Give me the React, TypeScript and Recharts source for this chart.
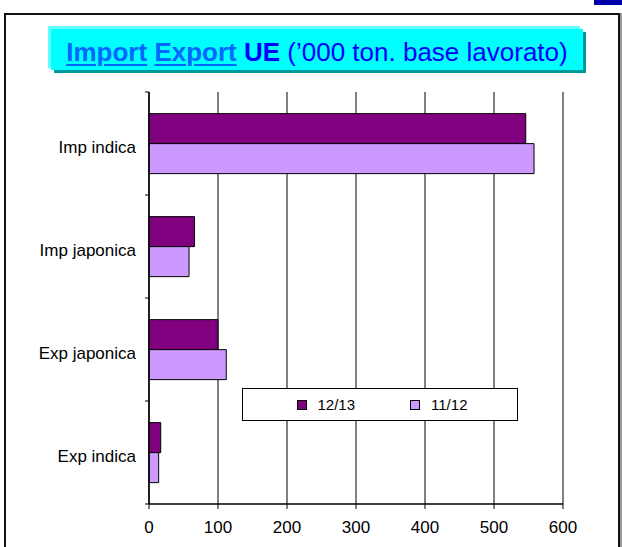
import React from 'react';
import { BarChart, Bar, XAxis, YAxis, CartesianGrid, Legend } from 'recharts';

const categories = ['Imp indica', 'Imp japonica', 'Exp japonica', 'Exp indica'];
const values1213 = [546, 66, 100, 17];
const values1112 = [558, 58, 112, 14];
const xTicks = [0, 100, 200, 300, 400, 500, 600];
const seriesKeys = ['s1213', 's1112'];
const seriesNames = ['12/13', '11/12'];
const seriesColors = ['#800080', '#CC99FF'];

const data = categories.map((name, i) => ({ name, s1213: values1213[i], s1112: values1112[i] }));

const FONT = '"Liberation Sans", Arial, Helvetica, sans-serif';
const W = 622;
const H = 547;
const MARGIN = { top: 92, right: 59, bottom: 13, left: 0 };
const YAXIS_W = 149;
const XAXIS_H = 30;
const PLOT_H = H - MARGIN.top - MARGIN.bottom - XAXIS_H;
const TICK_SIZE = 4;
const TICK_MARGIN = 9;

const CategoryTick = (props: any) => {
  const { x, y, payload, index, visibleTicksCount } = props;
  const half = PLOT_H / categories.length / 2;
  const axisX = x + TICK_SIZE + TICK_MARGIN;
  const isLast = index === (visibleTicksCount ?? categories.length) - 1;
  return (
    <g>
      <line x1={axisX - TICK_SIZE} x2={axisX} y1={y - half} y2={y - half} stroke="#000" strokeWidth={1} />
      {isLast && (
        <line x1={axisX - TICK_SIZE} x2={axisX} y1={y + half} y2={y + half} stroke="#000" strokeWidth={1} />
      )}
      <text x={x} y={y} dy={9} textAnchor="end" fill="#000" fontSize={17} fontFamily={FONT}>
        {payload.value}
      </text>
    </g>
  );
};

const LegendContent = (props: any) => {
  const payload = [...(props.payload || [])].sort(
    (a: any, b: any) => seriesNames.indexOf(a.value) - seriesNames.indexOf(b.value)
  );
  return (
    <div
      style={{
        width: '100%',
        height: '100%',
        boxSizing: 'border-box',
        border: '1px solid #000',
        background: '#fff',
        display: 'flex',
        alignItems: 'center',
        justifyContent: 'center',
        gap: 55,
        fontFamily: FONT,
        fontSize: 15,
        color: '#000',
        paddingLeft: 4,
      }}
    >
      {payload.map((p: any, i: number) => (
        <div key={i} style={{ display: 'flex', alignItems: 'center' }}>
          <span
            style={{
              display: 'inline-block',
              width: 8,
              height: 8,
              background: p.color,
              border: '1px solid #000',
              marginRight: 11,
            }}
          />
          <span>{p.value}</span>
        </div>
      ))}
    </div>
  );
};

export default function App() {
  return (
    <div
      style={{
        position: 'absolute',
        left: 0,
        top: 0,
        width: W,
        height: H,
        overflow: 'hidden',
        background: '#fff',
        fontFamily: FONT,
      }}
    >
      <div style={{ position: 'absolute', left: 594, top: 0, width: 28, height: 5, background: '#0000AA' }} />
      <div
        style={{
          position: 'absolute',
          left: 4,
          top: 13,
          width: 616,
          height: 620,
          boxSizing: 'border-box',
          border: '2px solid #111',
          boxShadow: '2px 0 0 #999',
        }}
      />
      <div style={{ position: 'absolute', left: 48, top: 26, width: 532, height: 42, background: '#66FFFF' }} />
      <div style={{ position: 'absolute', left: 54, top: 32, width: 532, height: 41, background: '#009999' }} />
      <div style={{ position: 'absolute', left: 51, top: 29, width: 532, height: 41, background: '#00FFFF' }} />
      <div
        style={{
          position: 'absolute',
          left: 51,
          top: 37,
          width: 532,
          height: 30,
          lineHeight: '30px',
          fontSize: 26,
          textAlign: 'center',
          whiteSpace: 'nowrap',
          color: '#0000FF',
        }}
      >
        <span
          style={{
            fontWeight: 'bold',
            color: '#0066FF',
            textDecoration: 'underline',
            textDecorationThickness: '2px',
            textUnderlineOffset: '3px',
          }}
        >
          Import
        </span>{' '}
        <span
          style={{
            fontWeight: 'bold',
            color: '#0066FF',
            textDecoration: 'underline',
            textDecorationThickness: '2px',
            textUnderlineOffset: '3px',
          }}
        >
          Export
        </span>{' '}
        <span style={{ fontWeight: 'bold' }}>UE</span> (’000 ton. base lavorato)
      </div>
      <div style={{ position: 'absolute', left: 0, top: 0 }}>
        <BarChart
          width={W}
          height={H}
          data={data}
          layout="vertical"
          margin={MARGIN}
          barCategoryGap="21%"
          barGap={0}
        >
          <CartesianGrid vertical={true} horizontal={false} stroke="#000" strokeWidth={1} />
          <XAxis
            type="number"
            domain={[0, 600]}
            ticks={xTicks}
            interval={0}
            height={XAXIS_H}
            axisLine={{ stroke: '#000', strokeWidth: 1.5 }}
            tickLine={{ stroke: '#000' }}
            tickSize={5}
            tickMargin={12}
            tick={{ fill: '#000', fontSize: 17, fontFamily: FONT }}
          />
          <XAxis
            xAxisId="top"
            orientation="top"
            type="number"
            domain={[0, 600]}
            height={0}
            tick={false}
            tickLine={false}
            axisLine={{ stroke: '#000', strokeWidth: 1 }}
          />
          <YAxis
            type="category"
            dataKey="name"
            width={YAXIS_W}
            interval={0}
            axisLine={{ stroke: '#000', strokeWidth: 1.5 }}
            tickLine={false}
            tickSize={TICK_SIZE}
            tickMargin={TICK_MARGIN}
            tick={<CategoryTick />}
          />
          <Legend
            layout="horizontal"
            verticalAlign="middle"
            align="center"
            wrapperStyle={{ left: 242, top: 388, width: 276, height: 33 }}
            content={<LegendContent />}
          />
          {seriesKeys.map((k, i) => (
            <Bar
              key={k}
              dataKey={k}
              name={seriesNames[i]}
              fill={seriesColors[i]}
              stroke="#000"
              strokeWidth={1}
              isAnimationActive={false}
            />
          ))}
        </BarChart>
      </div>
    </div>
  );
}
